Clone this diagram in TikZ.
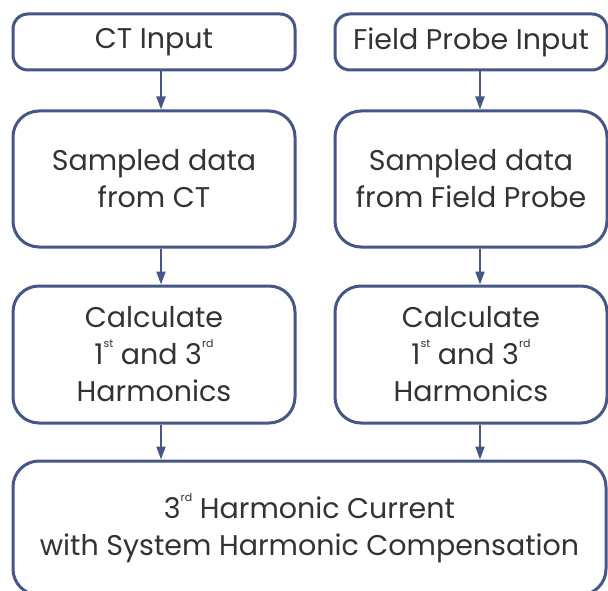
\documentclass[tikz,border=0pt]{standalone}
\usepackage{fontspec}
\setmainfont{Poppins}
\usetikzlibrary{arrows.meta}
\definecolor{frame}{HTML}{465787}
\definecolor{ink}{HTML}{333333}
\newcommand{\ordsup}[1]{\raisebox{0.6em}{\fontsize{11}{11}\selectfont #1}}
\tikzset{
  box/.style={draw=frame, line width=3pt, fill=white, rounded corners=26pt,
    inner sep=0pt, align=center, text=ink},
  inbox/.style={box, rounded corners=15pt},
  arr/.style={draw=frame, line width=2pt, -{Triangle[width=9pt,length=13pt]}}
}
\begin{document}
\begin{tikzpicture}[x=1pt, y=-1pt, font=\fontsize{28.5}{37}\selectfont]
\useasboundingbox (0,0) rectangle (608,591);
\fill[white] (0,0) rectangle (608,591);
\clip (0,0) rectangle (608,591);

% input boxes
\node[inbox, minimum width=282pt, minimum height=56pt] (A) at (154,42) {CT Input};
\node[inbox, minimum width=272pt, minimum height=56pt] (B) at (471,42) {Field Probe Input};

% sampled data
\node[box, minimum width=282pt, minimum height=136pt] (C) at (154,179) {Sampled data\\from CT};
\node[box, minimum width=272pt, minimum height=136pt] (D) at (471,179) {Sampled data\\from Field Probe};

% harmonic calculation
\node[box, minimum width=282pt, minimum height=137pt] (E) at (154,354.5) {Calculate\\1\ordsup{st} and 3\ordsup{rd}\\Harmonics};
\node[box, minimum width=272pt, minimum height=137pt] (F) at (471,354.5) {Calculate\\1\ordsup{st} and 3\ordsup{rd}\\Harmonics};

% result
\node[box, minimum width=593pt, minimum height=134pt] (G) at (309.5,528) {3\ordsup{rd} Harmonic Current\\with System Harmonic Compensation};

% connectors
\draw[arr] ([xshift=7pt]A.south) -- ([xshift=7pt]C.north);
\draw[arr] ([xshift=9pt]B.south) -- ([xshift=9pt]D.north);
\draw[arr] ([xshift=7pt]C.south) -- ([xshift=7pt]E.north);
\draw[arr] ([xshift=9pt]D.south) -- ([xshift=9pt]F.north);
\draw[arr] ([xshift=7pt]E.south) -- ([xshift=7pt]E.south |- G.north);
\draw[arr] ([xshift=9pt]F.south) -- ([xshift=9pt]F.south |- G.north);
\end{tikzpicture}
\end{document}
